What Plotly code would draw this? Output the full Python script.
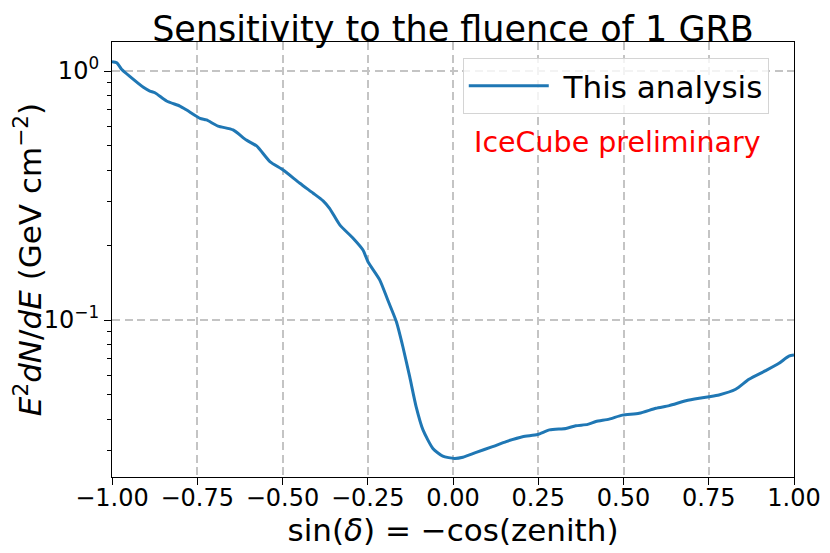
import plotly.graph_objects as go

sin_dec = [-1.0, -0.986, -0.972, -0.947, -0.908, -0.889, -0.874, -0.840, -0.801, -0.781,
           -0.742, -0.723, -0.689, -0.645, -0.606, -0.576, -0.537, -0.498, -0.449, -0.410,
           -0.381, -0.362, -0.332, -0.293, -0.264, -0.249, -0.215, -0.191, -0.166, -0.147,
           -0.127, -0.108, -0.088, -0.059, -0.030, 0.004, 0.029, 0.068, 0.116, 0.156,
           0.204, 0.248, 0.283, 0.331, 0.360, 0.395, 0.419, 0.458, 0.497, 0.546,
           0.595, 0.634, 0.683, 0.722, 0.751, 0.780, 0.829, 0.868, 0.917, 0.956,
           0.985, 1.0]
sensitivity = [1.09, 1.08, 1.016, 0.949, 0.860, 0.831, 0.818, 0.758, 0.723, 0.697,
               0.646, 0.636, 0.601, 0.580, 0.528, 0.500, 0.433, 0.400, 0.354, 0.323,
               0.301, 0.281, 0.241, 0.213, 0.191, 0.171, 0.145, 0.120, 0.0984, 0.0781,
               0.0592, 0.0448, 0.0362, 0.0305, 0.0284, 0.0278, 0.0281, 0.0294, 0.0310, 0.0325,
               0.0340, 0.0347, 0.0362, 0.0367, 0.0376, 0.0381, 0.0391, 0.0400, 0.0415, 0.0422,
               0.0442, 0.0453, 0.0474, 0.0485, 0.0492, 0.0500, 0.0527, 0.0578, 0.0626, 0.0670,
               0.0716, 0.0723]

x_tick_vals = [-1.0, -0.75, -0.5, -0.25, 0.0, 0.25, 0.5, 0.75, 1.0]
x_tick_text = ["−1.00", "−0.75", "−0.50", "−0.25", "0.00", "0.25", "0.50", "0.75", "1.00"]
y_tick_vals = [0.1, 1.0]
y_tick_text = ["10<sup>−1</sup>", "10<sup>0</sup>"]
y_minor_vals = [0.03, 0.04, 0.05, 0.06, 0.07, 0.08, 0.09, 0.2, 0.3, 0.4, 0.5, 0.6, 0.7, 0.8, 0.9]

FONT = "DejaVu Sans"

fig = go.Figure()
fig.add_trace(go.Scatter(
    x=sin_dec, y=sensitivity, mode="lines", name="&nbsp;This analysis",
    line=dict(color="#1f77b4", width=3, shape="spline", smoothing=0.6),
))

fig.update_layout(
    width=830, height=553,
    margin=dict(l=104, r=44, t=34, b=84),
    paper_bgcolor="white", plot_bgcolor="white",
    font=dict(family=FONT, color="black", size=24),
    title=dict(text="Sensitivity to the fluence of 1 GRB", xref="paper", x=0.5, xanchor="center",
               y=0.963, yanchor="middle", font=dict(size=35, family=FONT)),
    showlegend=True,
    legend=dict(x=0.963, y=0.963, xanchor="right", yanchor="top",
                bgcolor="rgba(255,255,255,0.8)", bordercolor="#d4d4d4", borderwidth=1,
                font=dict(size=31, family=FONT), itemwidth=80),
)

GRID = dict(showgrid=True, gridcolor="#c4c4c4", gridwidth=1.8, griddash="8px,4.5px")

fig.update_xaxes(
    range=[-1, 1], tickvals=x_tick_vals, ticktext=x_tick_text, automargin=False,
    showline=True, linecolor="black", linewidth=1.2, mirror=True,
    ticks="outside", ticklen=7, tickwidth=1.2, tickcolor="black",
    zeroline=False, ticklabelstandoff=-8, **GRID,
    title=dict(text="sin(<i>δ</i>) = −cos(zenith)", font=dict(size=31, family=FONT), standoff=0),
    tickfont=dict(size=24, family=FONT),
)
fig.update_yaxes(
    type="log", range=[-1.6305, 0.1165], tickvals=y_tick_vals, ticktext=y_tick_text,
    automargin=False,
    showline=True, linecolor="black", linewidth=1.2, mirror=True,
    ticks="outside", ticklen=7, tickwidth=1.2, tickcolor="black",
    zeroline=False, **GRID,
    minor=dict(tickvals=y_minor_vals, ticks="outside", ticklen=4, tickwidth=1,
               tickcolor="black", showgrid=False),
    title=dict(text="<i>E</i><sup>2</sup><i>dN</i>/<i>dE</i> (GeV cm<sup>−2</sup>)",
               font=dict(size=31, family=FONT), standoff=8),
    tickfont=dict(size=24, family=FONT),
)

fig.add_annotation(
    text="IceCube preliminary", xref="paper", yref="paper", x=0.955, y=0.768,
    xanchor="right", yanchor="middle", showarrow=False,
    font=dict(color="red", size=28.5, family=FONT),
)

fig.write_html("out.html")
